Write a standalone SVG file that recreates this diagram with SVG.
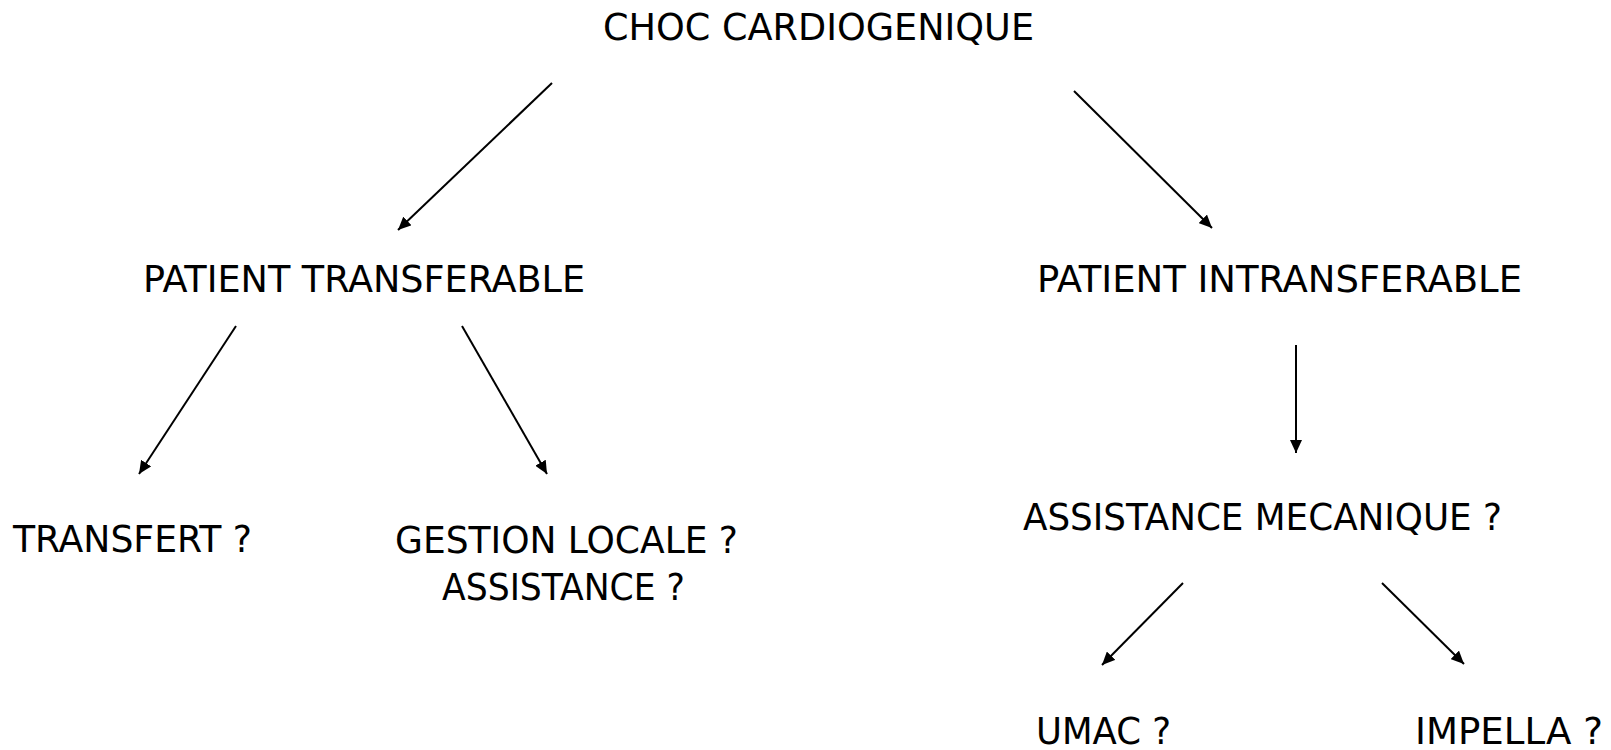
<svg xmlns="http://www.w3.org/2000/svg" width="1611" height="750" viewBox="0 0 1611 750">
<style>
text{font-family:"DejaVu Sans Condensed","DejaVu Sans",sans-serif;font-size:37px;fill:#000}
.c{stroke:#000;stroke-width:2;fill:none}
</style>
<defs>
<marker id="ah" markerUnits="userSpaceOnUse" markerWidth="14" markerHeight="12" refX="13" refY="6" orient="auto">
<path d="M0,0 L13,6 L0,12 Z" fill="#000"/>
</marker>
</defs>
<rect width="1611" height="750" fill="#fff"/>
<g id="connectors">
<line class="c" x1="552" y1="83" x2="398" y2="230" marker-end="url(#ah)"/>
<line class="c" x1="1074" y1="91" x2="1212" y2="228" marker-end="url(#ah)"/>
<line class="c" x1="236" y1="326" x2="139" y2="474" marker-end="url(#ah)"/>
<line class="c" x1="462" y1="326" x2="547" y2="474" marker-end="url(#ah)"/>
<line class="c" x1="1296" y1="345" x2="1296" y2="453" marker-end="url(#ah)"/>
<line class="c" x1="1183" y1="583" x2="1102" y2="665" marker-end="url(#ah)"/>
<line class="c" x1="1382" y1="583" x2="1464" y2="664" marker-end="url(#ah)"/>
</g>
<g id="n-choc"><text x="603" y="40" textLength="431" lengthAdjust="spacingAndGlyphs">CHOC CARDIOGENIQUE</text></g>
<g id="n-transferable"><text x="143" y="292" textLength="442" lengthAdjust="spacingAndGlyphs">PATIENT TRANSFERABLE</text></g>
<g id="n-intransferable"><text x="1037" y="292" textLength="485" lengthAdjust="spacingAndGlyphs">PATIENT INTRANSFERABLE</text></g>
<g id="n-transfert"><text x="13" y="552" textLength="239" lengthAdjust="spacingAndGlyphs">TRANSFERT ?</text></g>
<g id="n-gestion">
<text x="395" y="553" textLength="343" lengthAdjust="spacingAndGlyphs">GESTION LOCALE ?</text>
<text x="442" y="600" textLength="243" lengthAdjust="spacingAndGlyphs">ASSISTANCE ?</text>
</g>
<g id="n-assistance"><text x="1023" y="530" textLength="479" lengthAdjust="spacingAndGlyphs">ASSISTANCE MECANIQUE ?</text></g>
<g id="n-umac"><text x="1036" y="744" textLength="135" lengthAdjust="spacingAndGlyphs">UMAC ?</text></g>
<g id="n-impella"><text x="1415" y="744" textLength="188" lengthAdjust="spacingAndGlyphs">IMPELLA ?</text></g>
</svg>
